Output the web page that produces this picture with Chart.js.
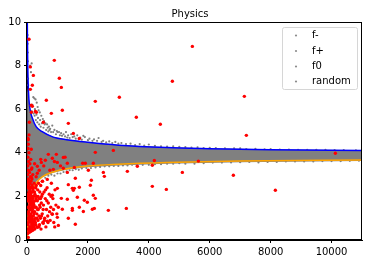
<!DOCTYPE html>
<html>
<head>
<meta charset="utf-8">
<script src="https://cdn.jsdelivr.net/npm/chart.js@4"></script>
<style>
html,body{margin:0;padding:0;background:#fff;}
#wrap{width:368px;height:264px;}
</style>
</head>
<body>
<div id="wrap"><canvas id="c" width="368" height="264"></canvas></div>
<script>
const chartTitle = 'Physics';
const seriesLabels = ['f-', 'f+', 'f0', 'random'];
const xTicks = [0, 2000, 4000, 6000, 8000, 10000];
const yTicks = [0, 2, 4, 6, 8, 10];

// upper boundary curve (blue)
const blueCurve = [[10,10],[20,8.5],[43,7.0],[100,6.0],[175,5.6],[300,5.2],[500,4.97],[860,4.72],[1300,4.6],[2000,4.48],[3000,4.35],[4580,4.24],[6000,4.19],[8000,4.14],[11000,4.10]];
// lower boundary curve (orange)
const orangeCurve = [[15,0],[30,0.9],[60,1.5],[120,2.0],[200,2.35],[320,2.65],[500,2.9],[860,3.12],[1300,3.27],[2000,3.39],[3000,3.47],[4580,3.55],[7000,3.62],[11000,3.67]];
// dense grey cloud envelope
const greyUpper = [[5,7.0],[50,6.6],[100,6.0],[200,5.45],[300,5.2],[500,4.97],[860,4.74],[1300,4.62],[2000,4.5],[3000,4.37],[4580,4.26],[6000,4.21],[8000,4.16],[11000,4.12]];
const greyLower = [[5,2.2],[100,2.3],[200,2.5],[320,2.7],[500,2.88],[860,3.08],[1300,3.22],[2000,3.34],[3000,3.42],[4580,3.5],[7000,3.57],[11000,3.62]];
// scattered grey points outside the dense cloud
const greyPoints = [[20,9.4],[22,9.0],[25,8.6],[28,8.2],[153,8.1],[100,8.0],[130,7.7],[35,7.4],[40,7.1],[207,6.55],[240,6.5],[280,6.45],[320,6.3],[350,6.1],[380,5.95],[420,5.85],[470,5.7],[520,5.55],[560,5.45],[610,5.35],[660,5.3],[720,5.2],[760,5.1],[830,5.25],[900,5.05],[980,5.0],[1050,4.95],[1120,4.9],[1200,4.85],[1280,4.95],[1350,4.8],[1450,4.85],[1550,4.75],[1650,4.8],[1750,4.7],[1900,4.72],[2050,4.65],[2200,4.62],[2350,4.68],[2500,4.55],[2700,4.52],[2900,4.5],[3100,4.45],[3400,4.42],[3700,4.4],[4000,4.38],[4400,4.3],[4800,4.3],[5200,4.26],[5600,4.25],[6000,4.23],[6500,4.2],[7000,4.2],[7500,4.18],[8000,4.17],[8600,4.15],[9200,4.14],[9800,4.13],[10400,4.12],
[160,5.9],[180,6.2],[220,5.8],[250,5.7],[260,6.0],[290,5.5],[310,5.75],[340,5.4],[360,5.6],[400,5.3],[430,5.5],[450,5.2],[490,5.35],[540,5.15],[580,5.3],[630,5.05],[680,5.15],[700,4.98],[740,5.05],[790,4.95],[860,4.95],[950,4.85],[1000,4.95],[1080,4.8],[1150,4.78],[1250,4.75],[1320,4.7],[1400,4.68],[1500,4.72],[1600,4.65],[1700,4.62],[1800,4.6],[1850,4.78],[2000,4.58],[2150,4.55],[2300,4.55],[2450,4.5],[2600,4.48],[2800,4.45],[3000,4.42],[3250,4.4],[3550,4.35],[3850,4.33],[4200,4.32],[4600,4.28],[5000,4.27],[5400,4.24],[5800,4.22],[6200,4.22],[6800,4.2],[7200,4.17],[7800,4.16],[8300,4.15],[8900,4.14],[9500,4.13],[10100,4.12],[10800,4.11],
[900,2.95],[1100,3.05],[1300,3.15],[1500,3.2],[1800,3.28],[2100,3.3],[2400,3.35],[2700,3.38],[3000,3.4],[3300,3.42],[3600,3.44],[4000,3.45],[4400,3.48],[4800,3.5],[5200,3.5],[5800,3.52],[6400,3.55],[7000,3.57],[7600,3.56],[8200,3.58],[8800,3.6],[9400,3.6],[10000,3.62],[10600,3.63],
[600,2.85],[700,2.95],[800,3.0],[1000,3.05],[1200,3.12],[1400,3.2],[1600,3.25],[1700,3.22],[1950,3.3],[2250,3.33],[2550,3.38],[2850,3.4],[3150,3.42],[3450,3.45],[3800,3.45],[4200,3.48],[4600,3.5],[5000,3.52],[5500,3.5],[6100,3.55],[6700,3.56],[7300,3.58],[7900,3.58],[8500,3.6],[9100,3.6],[9700,3.62],[10300,3.62],[10900,3.64]];
// red points
const redPoints = [[5430,8.88],[4773,7.28],[7137,6.59],[4378,5.31],[7203,4.80],[10125,3.98],[4181,3.65],[4115,3.43],[5627,3.62],[5101,3.10],[6776,2.97],[4115,2.46],[4575,2.32],[8155,2.28],
[3032,6.55],[2243,6.36],[3590,5.63],
[1521,4.89],[1718,4.66],[2835,4.11],[2243,4.02],[1828,3.52],[1915,3.52],[2178,3.52],[1554,3.33],[2014,3.20],[3295,3.15],[3623,3.38],[2507,3.10],[2540,2.92],[1587,2.83],[2113,2.74],[2080,2.51],[1554,2.37],[1521,2.28],[1718,2.42],[2178,2.05],[2243,1.91],[1653,1.96],[1882,1.82],[1981,1.73],[1489,1.45],[1718,1.50],[1850,1.31],[2146,1.41],[2211,1.45],[2671,1.36],[3262,1.45],[1587,0.72],
[66,9.21],[897,8.24],[110,7.94],[1062,7.42],[209,7.55],[175,7.10],[110,6.91],[1127,7.00],[635,6.41],[143,6.18],[175,6.13],[1160,5.95],[799,5.81],[1357,5.35],[274,5.90],[307,5.86],[143,5.86],[77,5.40],[537,5.40],
[66,4.82],[33,4.66],[43,4.39],[141,4.16],[700,3.93],[963,3.93],[1193,3.79],[832,3.75],[602,3.66],[996,3.56],[1324,3.52],[471,3.56],[339,3.38],[1193,3.29],[865,3.24],[142,3.24],[1324,3.10],[142,2.88],[43,2.65],[339,3.06],[503,2.69],[667,2.78],[996,2.37],[1357,2.54],[1489,2.37],[832,2.05],[1127,1.91],[1324,1.87],[1029,1.50],[1160,1.41],[1489,1.36],[1357,1.00],[832,1.18],[996,1.04],[667,0.86],[1029,0.67],[535,0.77],[338,0.58],[141,0.49],[43,0.12],
[25,0.5],[30,1.0],[35,1.5],[40,2.0],[28,2.4],[45,2.8],[50,0.8],[55,1.3],[60,1.8],[65,2.2],[70,0.4],[75,2.6],[80,1.1],[85,1.6],[90,0.6],[95,2.0],[100,1.4],[105,0.9],[110,2.4],[115,1.9],[120,0.5],[125,1.2],[130,2.7],[135,1.7],[140,0.8],[145,2.2],[150,1.5],[155,1.0],[160,0.6],[165,2.0],[170,2.5],[175,1.3],[180,0.9],[185,1.8],[190,0.45],[195,2.3],[200,1.5],[210,1.1],[215,0.7],[220,2.0],[230,1.6],[235,2.6],[240,0.9],[250,1.3],[255,0.5],[260,2.1],[270,1.8],[280,1.0],[285,2.4],[290,0.7],[300,1.5],[310,2.0],[320,1.2],[330,0.6],[340,1.8],[350,2.3],[360,0.9],[370,1.4],[380,2.6],[390,1.1],[400,1.9],[410,0.7],[420,2.2],[430,1.5],[440,1.0],[450,2.5],[460,0.5],[470,1.7],[480,2.0],[500,1.2],[510,2.7],[520,0.8],[540,1.6],[560,2.2],[580,1.0],[600,1.9],[620,0.6],[640,1.4],[660,2.4],[680,1.1],[700,1.7],[730,2.1],[760,0.9],[780,1.5],[800,2.6],[820,1.2],[850,1.9],[880,0.8],[920,2.3],[950,1.6],
[22,1.8],[27,0.3],[32,2.1],[38,0.7],[42,1.2],[48,2.5],[52,1.9],[58,0.5],[62,2.7],[68,1.5],[72,0.9],[78,2.0],[82,0.35],[88,2.3],[92,1.7],[98,1.0],[102,2.6],[108,0.6],[112,1.4],[118,2.1],[122,0.9],[128,1.8],[132,0.4],[138,2.4],[142,1.1],[148,2.0],[152,0.7],[158,1.6],[162,2.8],[168,1.0],[172,0.5],[178,2.2],[182,1.4],[188,1.9],[198,0.8],[205,2.4],[212,1.7],[225,1.2],[232,0.6],[245,2.2],[262,1.5],[275,0.8],[295,1.9],[305,2.5],[325,1.0],[345,1.4],[365,2.0],[395,0.6],[415,1.6],[445,1.9],[475,1.1],[505,2.1],[530,1.4],[570,0.9],[610,2.3],[650,1.8],[690,0.8],[740,1.3],[790,2.0],[870,1.4],[910,0.6],[980,1.2],
[20,3.0],[25,3.4],[30,3.8],[35,4.2],[40,4.6],[45,3.2],[55,3.6],[65,4.0],[80,3.1],[95,3.5],[110,2.9],[125,3.7],[160,3.3],[190,3.0],[250,3.5],[300,2.9],[400,3.2],[450,3.7],[550,3.4],[750,3.2],[900,3.6],[1100,3.4],[1250,3.8]];

const toXY = arr => arr.map(p => ({x: p[0], y: p[1]}));

const boxPlugin = {
  id: 'boxAndLegend',
  afterDraw(chart) {
    const ctx = chart.ctx, a = chart.chartArea;
    ctx.save();
    ctx.strokeStyle = '#000';
    ctx.lineWidth = 1;
    ctx.strokeRect(Math.round(a.left) - 0.5, Math.round(a.top) + 0.5, Math.round(a.right - a.left), Math.round(a.bottom - a.top) - 1);
    // title
    ctx.fillStyle = '#000';
    ctx.font = '10px "DejaVu Sans"';
    ctx.textAlign = 'center';
    ctx.textBaseline = 'alphabetic';
    ctx.fillText(chartTitle, 190, 16.5);
    // legend
    const lx = 282.5, ly = 27.5, lw = 75, lh = 62, r = 2;
    ctx.beginPath();
    ctx.moveTo(lx + r, ly);
    ctx.lineTo(lx + lw - r, ly); ctx.quadraticCurveTo(lx + lw, ly, lx + lw, ly + r);
    ctx.lineTo(lx + lw, ly + lh - r); ctx.quadraticCurveTo(lx + lw, ly + lh, lx + lw - r, ly + lh);
    ctx.lineTo(lx + r, ly + lh); ctx.quadraticCurveTo(lx, ly + lh, lx, ly + lh - r);
    ctx.lineTo(lx, ly + r); ctx.quadraticCurveTo(lx, ly, lx + r, ly);
    ctx.closePath();
    ctx.fillStyle = 'rgba(255,255,255,0.8)';
    ctx.fill();
    ctx.strokeStyle = '#d6d6d6';
    ctx.stroke();
    ctx.font = '10px "DejaVu Sans"';
    ctx.textBaseline = 'middle';
    ctx.textAlign = 'left';
    const rows = [35.5, 51, 66.5, 81.5];
    seriesLabels.forEach((lab, i) => {
      ctx.fillStyle = '#8c8c8c';
      ctx.beginPath();
      ctx.arc(296, rows[i], 1.1, 0, Math.PI * 2);
      ctx.fill();
      ctx.fillStyle = '#000';
      ctx.fillText(lab, 312, rows[i]);
    });
    ctx.restore();
  }
};

new Chart(document.getElementById('c'), {
  type: 'scatter',
  data: {
    datasets: [
      { type: 'line', label: 'greyLower', data: toXY(greyLower), borderWidth: 0, pointRadius: 0, borderColor: 'rgba(0,0,0,0)', fill: false, order: 6 },
      { type: 'line', label: 'greyUpper', data: toXY(greyUpper), borderWidth: 0, pointRadius: 0, borderColor: 'rgba(0,0,0,0)', backgroundColor: '#808080', fill: '-1', order: 5 },
      { label: 'grey', data: toXY(greyPoints), pointRadius: 1.1, pointBorderWidth: 0, backgroundColor: '#808080', borderColor: '#808080', order: 4 },
      { type: 'line', label: 'orange', data: toXY(orangeCurve), borderColor: '#ffa500', borderWidth: 1.5, pointRadius: 0, fill: false, cubicInterpolationMode: 'monotone', order: 3 },
      { type: 'line', label: 'blue', data: toXY(blueCurve), borderColor: '#0000ff', borderWidth: 1.5, pointRadius: 0, fill: false, cubicInterpolationMode: 'monotone', order: 2 },
      { label: 'red', data: toXY(redPoints), pointRadius: 1.7, pointBorderWidth: 0, backgroundColor: '#ff0000', borderColor: '#ff0000', order: 1 }
    ]
  },
  options: {
    responsive: false,
    animation: false,
    events: [],
    layout: { padding: { left: 0, right: 6, top: 22, bottom: 0 } },
    plugins: {
      legend: { display: false },
      tooltip: { enabled: false },
      title: { display: false }
    },
    scales: {
      x: {
        type: 'linear', min: 0, max: 11000,
        afterBuildTicks: ax => { ax.ticks = xTicks.map(v => ({ value: v })); },
        afterFit: ax => { ax.height = 24; },
        grid: { display: true, drawOnChartArea: false, drawTicks: true, tickLength: 3, color: '#000' },
        border: { display: true, color: '#000', width: 1 },
        ticks: { color: '#000', padding: 3, maxRotation: 0, font: { family: 'DejaVu Sans', size: 10 }, callback: v => String(v) }
      },
      y: {
        type: 'linear', min: 0, max: 10,
        afterBuildTicks: ax => { ax.ticks = yTicks.map(v => ({ value: v })); },
        afterFit: ax => { ax.width = 27; },
        grid: { display: true, drawOnChartArea: false, drawTicks: true, tickLength: 3, color: '#000' },
        border: { display: true, color: '#000', width: 1 },
        ticks: { color: '#000', padding: 3, font: { family: 'DejaVu Sans', size: 10 }, callback: v => String(v) }
      }
    }
  },
  plugins: [boxPlugin]
});
</script>
</body>
</html>
